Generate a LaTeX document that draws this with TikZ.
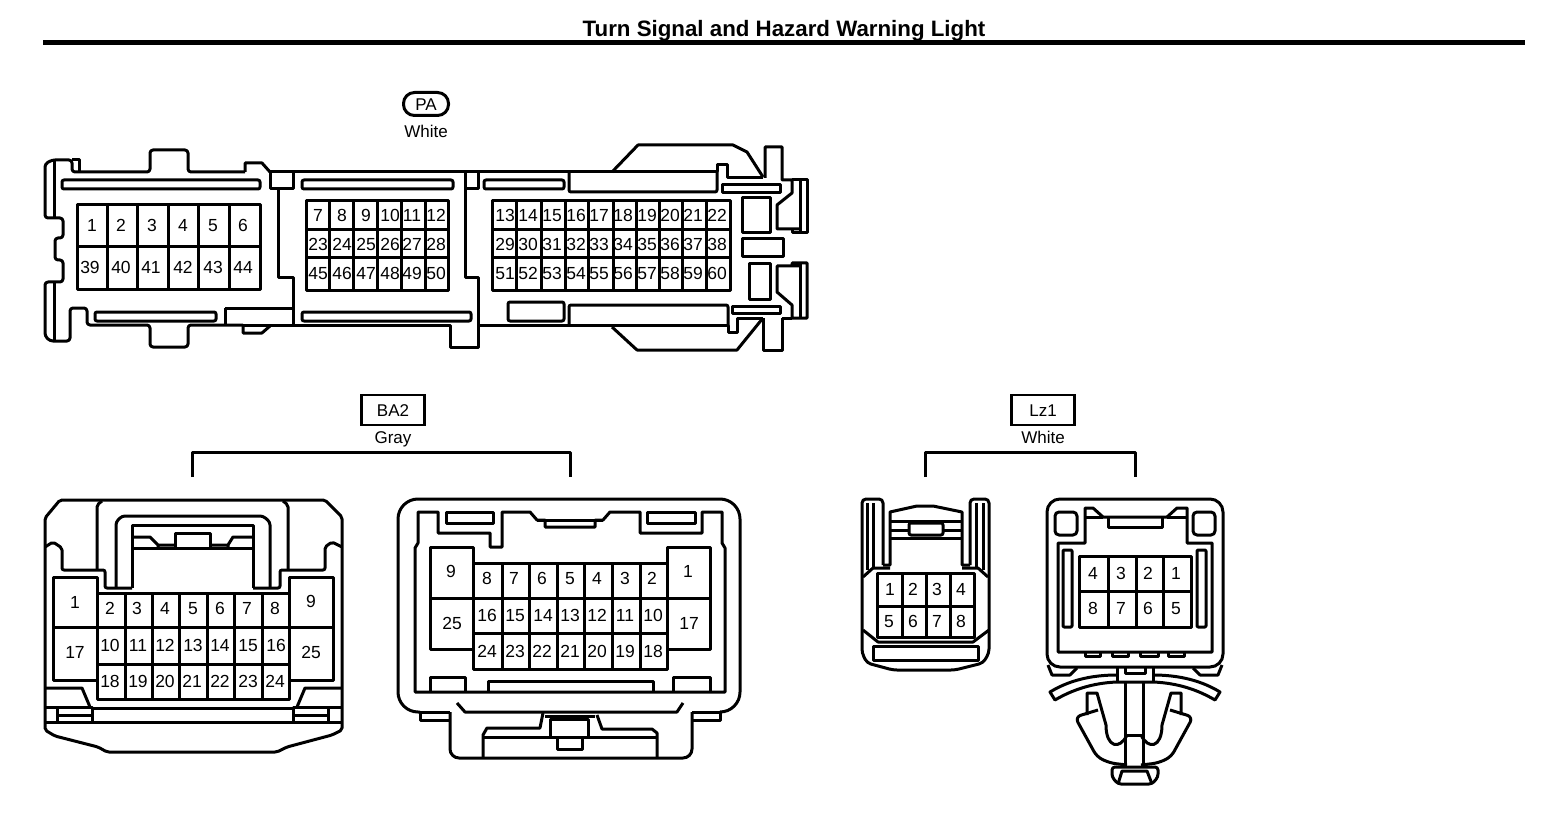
\documentclass[tikz,border=0pt]{standalone}
\usepackage{fontspec}
\setmainfont{Liberation Sans}
\tikzset{
  pin/.style={font=\fontsize{17.5}{18}\selectfont,inner sep=0pt,text height=12.6pt,text depth=0pt},
  caption/.style={font=\fontsize{17}{18}\selectfont,inner sep=0pt,text height=12.2pt,text depth=0pt},
  tagbox/.style={draw,line width=2.5pt,font=\fontsize{17}{18}\selectfont,minimum width=63pt,minimum height=30pt,inner sep=0pt,text height=12.2pt,text depth=0pt},
  tagpill/.style={draw,line width=3pt,rounded corners=11pt,font=\fontsize{17}{18}\selectfont,minimum width=45pt,minimum height=23pt,inner sep=0pt,text height=12.2pt,text depth=0pt},
  heading/.style={font=\bfseries\fontsize{22.3}{24}\selectfont,inner sep=0pt,text height=16pt,text depth=0pt},
  wire/.style={line width=3pt,line join=round}
}
\begin{document}
\begin{tikzpicture}[x=1pt,y=-1pt]
      \useasboundingbox (0,0) rectangle (1568,818);
      \draw[line width=5pt]
        (43,43) coordinate (rulea) -- (1525,43) coordinate (ruleb);
      \draw
        (784,29) node[heading] (title){Turn Signal and Hazard Warning Light}
        (426,104) node[tagpill] (pa){PA}
        (426,131) node[caption] (pacol){White}
        (393,410) node[tagbox] (ba2){BA2}
        (393,437) node[caption] (ba2col){Gray}
        (1043,410) node[tagbox] (lz1){Lz1}
        (1043,437) node[caption] (lz1col){White};
      \coordinate (ba2a) at (192,477);
      \coordinate (ba2b) at (570,477);
      \coordinate (lz1a) at (925,477);
      \coordinate (lz1b) at (1135,477);
      \begin{scope}[wire]
        \draw (ba2a) -- ++(0,-25) -| (ba2b);
        \draw (lz1a) -- ++(0,-25) -| (lz1b);
      \end{scope}
      % PA
      \begin{scope}[wire]
        \draw[rounded corners=3pt] (245,172) -- (188,172) -- (188,150) -- (150,150) -- (150,172) -- (72,172) -- (72,160) -- (52,160) -- (45,164) -- (45,218) -- (63,218) -- (63,238) -- (55,238) -- (55,260) -- (63,260) -- (63,282) -- (45,282) -- (45,336) -- (50,341) -- (70,341) -- (70,308) -- (87,308) -- (87,325) -- (150,325) -- (150,347) -- (188,347) -- (188,325) -- (243,325);
        \draw (72,160) -- (79,160) -- (79,172);
        \draw (54,160) -- (54,218) (54,282) -- (54,340);
        \draw (245,172) -- (245,163) -- (262,163) -- (270,172);
        \draw (243,325) -- (243,333) -- (262,333) -- (270,326);
        \draw (243,325) -- (450,325) -- (450,347) -- (478,347) -- (478,325) -- (728,325) -- (728,332) -- (737,332) -- (737,318) -- (763,318);
        \draw (270,172) -- (717,172) -- (717,165) -- (727,165) -- (727,178) -- (763,178);
        \draw (270,172) -- (270,189) -- (293,189) -- (293,172);
        \draw (278,189) -- (278,278) -- (293,278) -- (293,325);
        \draw (225,308) -- (293,308) (225,308) -- (225,325);
        \draw (465,172) -- (465,278) -- (478,278) -- (478,325);
        \draw (465,189) -- (478,189) -- (478,172);
        \draw[rounded corners=2pt] (62,180) rectangle (260,189);
        \draw[rounded corners=2pt] (95,312) rectangle (216,321);
        \draw[rounded corners=2pt] (302,180) rectangle (453,189);
        \draw[rounded corners=2pt] (302,312) rectangle (471,321);
        \draw[rounded corners=2pt] (484,180) rectangle (564,189);
        \draw[rounded corners=2pt] (569,172) -- (569,192) -- (717,192) -- (717,172);
        \draw[rounded corners=2pt] (508,302) rectangle (564,321);
        \draw[rounded corners=2pt] (569,325) -- (569,305) -- (728,305) -- (728,325);
        \draw (612,172) -- (638,145) -- (733,145) -- (747,152) -- (763,177);
        \draw (612,327) -- (637,350) -- (737,350) -- (763,318);
        \draw (765,178) -- (765,147) -- (782,147) -- (782,180) -- (792,180) -- (792,193) -- (777,205) -- (777,229) -- (800,229);
        \draw (792,180) -- (807,180) -- (807,233) -- (792,233) -- (792,229);
        \draw (800,180) -- (800,233);
        \draw (763,318) -- (763,350) -- (782,350) -- (782,318);
        \draw (800,266) -- (777,266) -- (777,292) -- (792,305) -- (792,318) -- (807,318) -- (807,263) -- (792,263) -- (792,266);
        \draw (782,318) -- (792,318);
        \draw (800,263) -- (800,318);
        \draw (722,185) rectangle (780,193);
        \draw (732,306) rectangle (780,313);
        \draw (742,198) rectangle (770,233);
        \draw (742,239) rectangle (783,257);
        \draw (749,264) rectangle (770,299);
        \draw (77,205) rectangle (260,289);
        \draw (77,247) -- (260,247);
        \draw (107,205) -- (107,289) (137,205) -- (137,289) (168,205) -- (168,289) (198,205) -- (198,289) (229,205) -- (229,289);
        \draw (306,201) rectangle (448,290);
        \draw (306,230) -- (448,230) (306,258) -- (448,258);
        \draw (329,201) -- (329,290) (353,201) -- (353,290) (377,201) -- (377,290) (401,201) -- (401,290) (425,201) -- (425,290);
        \draw (492,201) rectangle (730,290);
        \draw (492,230) -- (730,230) (492,258) -- (730,258);
        \draw (516,201) -- (516,290) (541,201) -- (541,290) (565,201) -- (565,290) (588,201) -- (588,290) (613,201) -- (613,290);
        \draw (636,201) -- (636,290) (659,201) -- (659,290) (682,201) -- (682,290) (706,201) -- (706,290);
      \end{scope}
      \draw[nodes={pin}]
        (92,225) node (p1){1}
        (121,225) node (p2){2}
        (152,225) node (p3){3}
        (183,225) node (p4){4}
        (213,225) node (p5){5}
        (243,225) node (p6){6}
        (90,267) node (p39){39}
        (121,267) node (p40){40}
        (151,267) node (p41){41}
        (183,267) node (p42){42}
        (213,267) node (p43){43}
        (243,267) node (p44){44}
        (318,215) node (p7){7}
        (342,215) node (p8){8}
        (366,215) node (p9){9}
        (390,215) node (p10){10}
        (412,215) node (p11){11}
        (436,215) node (p12){12}
        (318,244) node (p23){23}
        (342,244) node (p24){24}
        (366,244) node (p25){25}
        (390,244) node (p26){26}
        (412,244) node (p27){27}
        (436,244) node (p28){28}
        (318,273) node (p45){45}
        (342,273) node (p46){46}
        (366,273) node (p47){47}
        (390,273) node (p48){48}
        (412,273) node (p49){49}
        (436,273) node (p50){50}
        (505,215) node (p13){13}
        (528,215) node (p14){14}
        (552,215) node (p15){15}
        (576,215) node (p16){16}
        (599,215) node (p17){17}
        (623,215) node (p18){18}
        (647,215) node (p19){19}
        (670,215) node (p20){20}
        (693,215) node (p21){21}
        (717,215) node (p22){22}
        (505,244) node (p29){29}
        (528,244) node (p30){30}
        (552,244) node (p31){31}
        (576,244) node (p32){32}
        (599,244) node (p33){33}
        (623,244) node (p34){34}
        (647,244) node (p35){35}
        (670,244) node (p36){36}
        (693,244) node (p37){37}
        (717,244) node (p38){38}
        (505,273) node (p51){51}
        (528,273) node (p52){52}
        (552,273) node (p53){53}
        (576,273) node (p54){54}
        (599,273) node (p55){55}
        (623,273) node (p56){56}
        (647,273) node (p57){57}
        (670,273) node (p58){58}
        (693,273) node (p59){59}
        (717,273) node (p60){60};
      % BA2, left
      \begin{scope}[wire]
        \draw[rounded corners=2pt] (45,518) -- (60,500) -- (325,500) -- (342,517) -- (342,730) -- (332,735) -- (287,747) -- (277,752) -- (107,752) -- (98,747) -- (55,736) -- (45,730) -- cycle;
        \draw (45,722) -- (342,722);
        \draw (45,707) -- (92,707) -- (92,722) (57,707) -- (57,722) (57,715) -- (92,715);
        \draw (342,707) -- (293,707) -- (293,722) (328,707) -- (328,722) (293,715) -- (328,715);
        \draw (92,708) -- (293,708);
        \draw (45,688) -- (82,688) -- (90,707);
        \draw (342,688) -- (305,688) -- (297,707);
        \draw[rounded corners=2pt] (45,547) -- (53,542) -- (62,548) -- (62,570) -- (105,570) -- (105,588) -- (132,588);
        \draw[rounded corners=2pt] (97,570) -- (97,505) -- (102,501);
        \draw[rounded corners=2pt] (342,547) -- (332,542) -- (325,547) -- (325,570) -- (280,570) -- (280,588) -- (253,588);
        \draw[rounded corners=2pt] (288,570) -- (288,505) -- (283,501);
        \draw[rounded corners=3pt] (116,588) -- (116,522) -- (122,516) -- (263,516) -- (270,522) -- (270,588);
        \draw (132,588) -- (132,525) -- (253,525) -- (253,588);
        \draw (132,548) -- (253,548);
        \draw (132,537) -- (150,537) -- (158,545) -- (158,548) (158,545) -- (175,545);
        \draw (175,548) -- (175,533) -- (210,533) -- (210,548);
        \draw (253,537) -- (233,537) -- (228,545) -- (228,548) (228,545) -- (210,545);
        \draw (97,593) rectangle (289,699);
        \draw (53,577) rectangle (97,680);
        \draw (289,577) rectangle (333,680);
        \draw (53,627) -- (333,627) (97,664) -- (289,664);
        \draw (125,593) -- (125,699) (152,593) -- (152,699) (179,593) -- (179,699);
        \draw (207,593) -- (207,699) (234,593) -- (234,699) (262,593) -- (262,699);
      \end{scope}
      \draw[nodes={pin}]
        (75,602) node (bl1){1}
        (110,608) node (bl2){2}
        (137,608) node (bl3){3}
        (165,608) node (bl4){4}
        (193,608) node (bl5){5}
        (220,608) node (bl6){6}
        (247,608) node (bl7){7}
        (275,608) node (bl8){8}
        (311,601) node (bl9){9}
        (110,645) node (bl10){10}
        (138,645) node (bl11){11}
        (165,645) node (bl12){12}
        (193,645) node (bl13){13}
        (220,645) node (bl14){14}
        (248,645) node (bl15){15}
        (276,645) node (bl16){16}
        (75,652) node (bl17){17}
        (110,681) node (bl18){18}
        (138,681) node (bl19){19}
        (165,681) node (bl20){20}
        (192,681) node (bl21){21}
        (220,681) node (bl22){22}
        (248,681) node (bl23){23}
        (275,681) node (bl24){24}
        (311,652) node (bl25){25};
      % BA2, right
      \begin{scope}[wire]
        \draw[rounded corners=20pt] (420,712) -- (398,712) -- (398,499) -- (740,499) -- (740,712) -- (720,712);
        \draw (420,712) -- (420,720) -- (450,720);
        \draw (720,712) -- (720,720) -- (692,720);
        \draw (420,712) -- (450,712) (720,712) -- (692,712);
        \draw[rounded corners=9pt] (450,712) -- (450,758) -- (692,758) -- (692,712);
        \draw (415,692) -- (415,548) -- (418,543) -- (418,512) -- (438,512) -- (438,533) -- (490,533) -- (490,547) -- (502,547) -- (502,512) -- (530,512) -- (537,520) -- (545,520) -- (545,527) -- (595,527) -- (595,520) -- (603,520) -- (610,512) -- (640,512) -- (640,533) -- (702,533) -- (702,512) -- (722,512) -- (722,543) -- (725,548) -- (725,692) -- cycle;
        \draw (537,520) -- (603,520);
        \draw (446,512) rectangle (493,523);
        \draw (647,512) rectangle (695,523);
        \draw (473,563) rectangle (667,669);
        \draw (430,547) rectangle (473,649);
        \draw (667,547) rectangle (710,649);
        \draw (430,598) -- (710,598) (473,633) -- (667,633);
        \draw (502,563) -- (502,669) (529,563) -- (529,669) (557,563) -- (557,669);
        \draw (584,563) -- (584,669) (612,563) -- (612,669) (640,563) -- (640,669);
        \draw (430,692) -- (430,677) -- (465,677) -- (465,692);
        \draw (488,692) -- (488,681) -- (653,681) -- (653,692);
        \draw (673,692) -- (673,677) -- (710,677) -- (710,692);
        \draw (457,703) -- (465,712) -- (677,712) -- (683,703);
        \draw (543,713) -- (540,728) -- (487,728) -- (483,735) -- (483,758);
        \draw (597,715) -- (602,729) -- (652,729) -- (657,733) -- (657,758);
        \draw (483,737) -- (657,737);
        \draw (545,716) -- (595,716);
        \draw (550,737) -- (550,719) -- (588,719) -- (588,737);
        \draw (557,737) -- (557,749) -- (582,749) -- (582,737);
      \end{scope}
      \draw[nodes={pin}]
        (688,571) node (br1){1}
        (652,578) node (br2){2}
        (625,578) node (br3){3}
        (597,578) node (br4){4}
        (570,578) node (br5){5}
        (542,578) node (br6){6}
        (514,578) node (br7){7}
        (487,578) node (br8){8}
        (451,571) node (br9){9}
        (653,615) node (br10){10}
        (625,615) node (br11){11}
        (597,615) node (br12){12}
        (570,615) node (br13){13}
        (543,615) node (br14){14}
        (515,615) node (br15){15}
        (487,615) node (br16){16}
        (689,623) node (br17){17}
        (653,651) node (br18){18}
        (625,651) node (br19){19}
        (597,651) node (br20){20}
        (570,651) node (br21){21}
        (542,651) node (br22){22}
        (515,651) node (br23){23}
        (487,651) node (br24){24}
        (452,623) node (br25){25};
      % Lz1, left
      \begin{scope}[wire]
        \draw[rounded corners=4pt] (883,565) -- (883,499) -- (862,499) -- (862,653) -- (867,663) -- (893,670) -- (955,670) -- (983,663) -- (989,653) -- (989,499) -- (970,499) -- (970,565);
        \draw (867,503) -- (867,570) (873,503) -- (873,568);
        \draw (983,503) -- (983,570) (976,503) -- (976,568);
        \draw (883,565) -- (890,565) -- (890,512) -- (917,506) -- (933,506) -- (962,512) -- (962,565) -- (970,565);
        \draw (890,521) -- (962,521);
        \draw (890,530) -- (909,530) (943,530) -- (962,530);
        \draw (890,538) -- (962,538);
        \draw[rounded corners=2pt,fill=white] (909,523) rectangle (943,535);
        \draw (863,577) -- (873,568) -- (890,568);
        \draw (988,577) -- (978,568) -- (962,568);
        \draw (863,630) -- (878,642) -- (973,642) -- (989,630);
        \draw (877,573) rectangle (974,637);
        \draw (877,606) -- (974,606);
        \draw (902,573) -- (902,637) (926,573) -- (926,637) (950,573) -- (950,637);
        \draw (873,646) -- (873,660) -- (978,660) -- (978,646) -- cycle;
      \end{scope}
      \draw[nodes={pin}]
        (890,589) node (la1){1}
        (913,589) node (la2){2}
        (937,589) node (la3){3}
        (961,589) node (la4){4}
        (889,621) node (la5){5}
        (913,621) node (la6){6}
        (937,621) node (la7){7}
        (961,621) node (la8){8};
      % Lz1, right
      \begin{scope}[wire]
        \draw[rounded corners=13pt] (1047,499) rectangle (1223,667);
        \draw (1058,543) -- (1085,543) -- (1085,508) -- (1093,508) -- (1103,517) -- (1167,517) -- (1177,508) -- (1187,508) -- (1187,543) -- (1212,543) -- (1212,652) -- (1058,652) -- cycle;
        \draw (1085,517) -- (1103,517) (1167,517) -- (1187,517);
        \draw (1108,517) -- (1108,527) -- (1162,527) -- (1162,517);
        \draw[rounded corners=4pt] (1077,512) -- (1055,512) -- (1055,535) -- (1077,535) -- cycle;
        \draw[rounded corners=4pt] (1193,512) -- (1215,512) -- (1215,535) -- (1193,535) -- cycle;
        \draw[rounded corners=1pt] (1063,550) rectangle (1072,627);
        \draw[rounded corners=1pt] (1197,550) rectangle (1206,627);
        \draw (1079,556) rectangle (1191,627);
        \draw (1079,591) -- (1191,591);
        \draw (1108,556) -- (1108,627) (1136,556) -- (1136,627) (1163,556) -- (1163,627);
        \draw (1085,652) -- (1085,656) -- (1100,656) -- (1100,652);
        \draw (1112,652) -- (1112,656) -- (1128,656) -- (1128,652);
        \draw (1140,652) -- (1140,656) -- (1158,656) -- (1158,652);
        \draw (1168,652) -- (1168,656) -- (1184,656) -- (1184,652);
        \draw (1117,667) -- (1117,682) (1153,667) -- (1153,682);
        \draw (1125,667) -- (1125,673) -- (1145,673) -- (1145,667);
        \draw (1117,675) .. controls (1090,675) and (1068,681) .. (1050,692) -- (1055,700) .. controls (1072,690) and (1092,683) .. (1117,682) -- (1153,682) .. controls (1178,683) and (1198,690) .. (1215,700) -- (1220,692) .. controls (1202,681) and (1180,675) .. (1153,675);
        \draw (1048,665) -- (1052,675) -- (1070,675) -- (1077,668);
        \draw (1222,665) -- (1218,675) -- (1200,675) -- (1193,668);
        \draw (1125,683) -- (1125,767) (1143,683) -- (1143,767);
        \draw (1125,735) -- (1143,735);
        \draw (1087,715) -- (1087,693) -- (1097,693) -- (1106,725) .. controls (1106,748) and (1120,750) .. (1127,735);
        \draw (1181,715) -- (1181,693) -- (1171,693) -- (1162,725) .. controls (1162,748) and (1148,750) .. (1141,735);
        \draw[rounded corners=6pt] (1098,710) -- (1075,717) -- (1097,757) -- (1110,763) -- (1127,765);
        \draw[rounded corners=6pt] (1170,710) -- (1193,717) -- (1171,757) -- (1158,763) -- (1141,765);
        \draw[rounded corners=3pt] (1112,767) -- (1112,777) -- (1118,784) -- (1152,784) -- (1158,777) -- (1158,767) -- cycle;
        \draw (1118,784) -- (1122,771) -- (1147,771) -- (1152,784);
      \end{scope}
      \draw[nodes={pin}]
        (1176,573) node (lb1){1}
        (1148,573) node (lb2){2}
        (1121,573) node (lb3){3}
        (1093,573) node (lb4){4}
        (1176,608) node (lb5){5}
        (1148,608) node (lb6){6}
        (1121,608) node (lb7){7}
        (1093,608) node (lb8){8};
    \end{tikzpicture}
\end{document}
